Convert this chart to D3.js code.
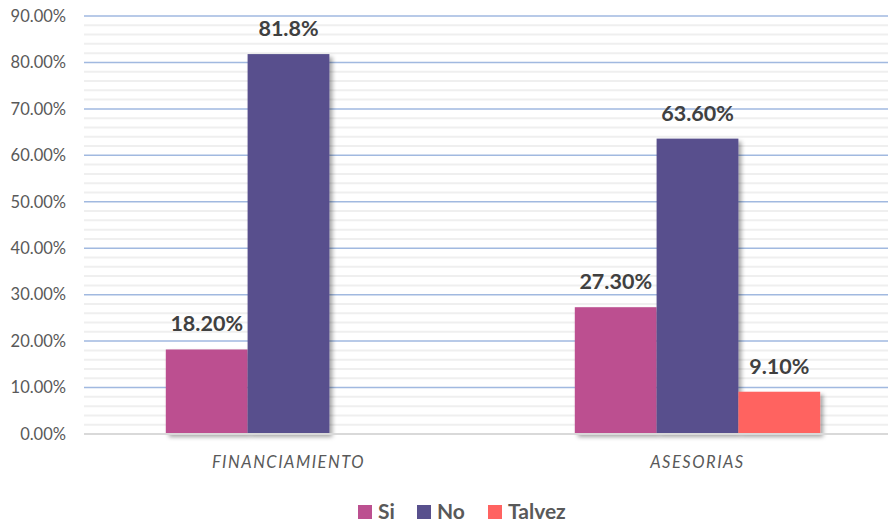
<!DOCTYPE html>
<html>
<head>
<meta charset="utf-8">
<script src="https://cdn.jsdelivr.net/npm/d3@7"></script>
<style>
  body { margin: 0; background: #fff; }
  svg { display: block; }
</style>
</head>
<body>
<svg id="chart"></svg>
<script>
const width = 888;
const height = 525;

const categories = ['FINANCIAMIENTO', 'ASESORIAS'];
const seriesNames = ['Si', 'No', 'Talvez'];
const si = [0.182, 0.273];
const no = [0.818, 0.636];
const talvez = [null, 0.091];
const labels = [['18.20%', '81.8%', null], ['27.30%', '63.60%', '9.10%']];
const yTicks = [0, 0.1, 0.2, 0.3, 0.4, 0.5, 0.6, 0.7, 0.8, 0.9];
const colors = { Si: '#bc5090', No: '#58508d', Talvez: '#ff6361' };

const margin = { top: 16, left: 84, bottom: 91 };
const plotRight = 902;

const svg = d3.select('#chart')
    .attr('width', width)
    .attr('height', height)
    .style('font-family', 'Lato, "Open Sans", sans-serif');

const defs = svg.append('defs');
const shadow = defs.append('filter')
    .attr('id', 'shadow')
    .attr('x', '-10%').attr('y', '-10%')
    .attr('width', '130%').attr('height', '130%');
shadow.append('feDropShadow')
    .attr('dx', 3).attr('dy', 3)
    .attr('stdDeviation', 2.2)
    .attr('flood-color', '#000')
    .attr('flood-opacity', 0.35);

const y = d3.scaleLinear()
    .domain([0, 0.9])
    .range([height - margin.bottom, margin.top]);

const x0 = d3.scaleBand()
    .domain(categories)
    .range([margin.left, plotRight]);

const x1 = d3.scaleBand()
    .domain(seriesNames)
    .range([0, x0.bandwidth()])
    .paddingOuter(1);

// minor gridlines every 2%
const minor = d3.range(0, 46).map(i => i * 0.02).filter((v, i) => i % 5 !== 0);
svg.append('g')
    .selectAll('line')
    .data(minor)
    .enter().append('line')
    .attr('x1', margin.left).attr('x2', width)
    .attr('y1', d => y(d)).attr('y2', d => y(d))
    .style('stroke', '#efefef')
    .style('stroke-width', 2);

// major gridlines
svg.append('g')
    .selectAll('line')
    .data(yTicks.filter(d => d > 0))
    .enter().append('line')
    .attr('x1', margin.left).attr('x2', width)
    .attr('y1', d => y(d)).attr('y2', d => y(d))
    .style('stroke', '#a1b9e0')
    .style('stroke-width', 1.5);

// y axis labels
const yAxis = svg.append('g')
    .attr('transform', `translate(${margin.left - 18},0)`)
    .call(d3.axisLeft(y).tickValues(yTicks).tickFormat(d3.format('.2%')).tickSize(0).tickPadding(0));
yAxis.select('.domain').remove();
yAxis.selectAll('text')
    .style('font-family', 'Lato, "Open Sans", sans-serif')
    .style('font-size', '16.5px')
    .style('fill', '#595959');

// bars
const rows = categories.map((c, i) => ({
    category: c,
    values: [si[i], no[i], talvez[i]].map((v, j) => ({ key: seriesNames[j], value: v, label: labels[i][j] }))
}));

const group = svg.append('g')
    .selectAll('g')
    .data(rows)
    .enter().append('g')
    .attr('transform', d => `translate(${x0(d.category)},0)`);

group.selectAll('rect')
    .data(d => d.values.filter(v => v.value != null))
    .enter().append('rect')
    .attr('x', d => x1(d.key))
    .attr('width', x1.bandwidth())
    .attr('y', d => y(d.value))
    .attr('height', d => y(0) - y(d.value))
    .style('fill', d => colors[d.key])
    .attr('filter', 'url(#shadow)');

group.selectAll('text')
    .data(d => d.values.filter(v => v.label))
    .enter().append('text')
    .attr('x', d => x1(d.key) + x1.bandwidth() / 2)
    .attr('y', d => y(d.value) - 18)
    .attr('text-anchor', 'middle')
    .style('font-size', '21.5px')
    .style('font-weight', 'bold')
    .style('fill', '#404040')
    .text(d => d.label);

// baseline
svg.append('line')
    .attr('x1', margin.left).attr('x2', width)
    .attr('y1', y(0)).attr('y2', y(0))
    .style('stroke', '#d9d9d9')
    .style('stroke-width', 2);

// category labels
svg.append('g')
    .selectAll('text')
    .data(categories)
    .enter().append('text')
    .attr('x', d => x0(d) + x0.bandwidth() / 2)
    .attr('y', 468)
    .attr('text-anchor', 'middle')
    .style('font-size', '16.5px')
    .style('letter-spacing', '1.5px')
    .style('font-style', 'italic')
    .style('fill', '#595959')
    .text(d => d);

// legend
const legendX = [358, 417, 488];
const legend = svg.append('g')
    .selectAll('g')
    .data(seriesNames)
    .enter().append('g')
    .attr('transform', (d, i) => `translate(${legendX[i]},505)`);
legend.append('rect')
    .attr('width', 14).attr('height', 14)
    .style('fill', d => colors[d]);
legend.append('text')
    .attr('x', 20).attr('y', 14)
    .style('font-size', '21px')
    .style('font-weight', 'bold')
    .style('fill', '#595959')
    .text(d => d);
</script>
</body>
</html>
